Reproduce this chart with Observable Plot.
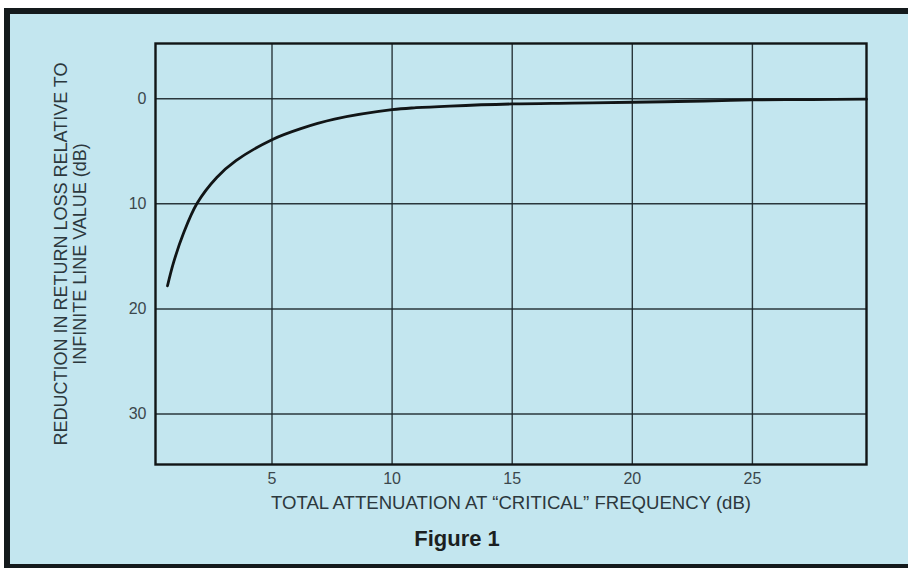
<!DOCTYPE html>
<html>
<head>
<meta charset="utf-8">
<script src="https://cdn.jsdelivr.net/npm/d3@7"></script>
<script src="https://cdn.jsdelivr.net/npm/@observablehq/plot@0.6"></script>
<style>
  html, body { margin: 0; padding: 0; background: #ffffff; width: 908px; height: 572px; overflow: hidden; }
  #panel { position: absolute; left: 4px; top: 8px; width: 920px; height: 560px;
           background: #c3e6ef; border-top: 6px solid #141a1c; border-left: 6px solid #141a1c;
           border-bottom: 4px solid #141a1c; box-sizing: border-box; }
  #chart { position: absolute; left: 0; top: 0; }
  #caption { position: absolute; left: 0; width: 914px; top: 526px; text-align: center;
             font-family: "Liberation Sans Narrow", "Liberation Sans", sans-serif; font-weight: bold;
             font-size: 22px; color: #1b1f21; }
</style>
</head>
<body>
<div id="panel"></div>
<div id="chart"></div>
<div id="caption">Figure 1</div>
<script>
// Data
const attenuation = [0.65, 0.9, 1.3, 1.87, 2.7, 3.5, 5.0, 6.2, 7.6, 10.0, 11.0, 12.4, 15.0, 17.5, 20.0, 23.0, 25.0, 27.5, 29.75];
const reduction   = [17.8, 15.6, 12.9, 10.0, 7.5, 5.9, 3.9, 2.85, 1.95, 1.05, 0.86, 0.7, 0.5, 0.42, 0.34, 0.22, 0.12, 0.08, 0.05];
const xTicks = [5, 10, 15, 20, 25];
const yTicks = [0, 10, 20, 30];
const xLabel = "TOTAL ATTENUATION AT \u201CCRITICAL\u201D FREQUENCY (dB)";
const yLabel = "REDUCTION IN RETURN LOSS RELATIVE TO\nINFINITE LINE VALUE (dB)";

const data = attenuation.map((x, i) => ({x, y: reduction[i]}));

const ink = "#1a2428";
const plot = Plot.plot({
  width: 908,
  height: 520,
  marginLeft: 155,
  marginRight: 42,
  marginTop: 43,
  marginBottom: 56,
  style: { background: "transparent", fontFamily: "Liberation Sans, Arial, sans-serif", fontSize: "16px" },
  x: { domain: [0.15, 29.75] },
  y: { domain: [-5.25, 34.8], reverse: true },
  marks: [
    Plot.gridX(xTicks, { stroke: ink, strokeOpacity: 0.9, strokeWidth: 1.4 }),
    Plot.gridY(yTicks, { stroke: ink, strokeOpacity: 0.9, strokeWidth: 1.5 }),
    Plot.axisX(xTicks, { tickSize: 0, tickPadding: 8, fill: "#3b474c", label: null }),
    Plot.axisY(yTicks, { tickSize: 0, tickPadding: 9, fill: "#3b474c", label: null }),
    Plot.line(data, { x: "x", y: "y", stroke: "#111516", strokeWidth: 2.8, curve: "catmull-rom" }),
    Plot.frame({ stroke: "#111516", strokeWidth: 2.4 }),
    Plot.text([xLabel], { frameAnchor: "bottom", lineAnchor: "middle", dy: 39, fontSize: 18, fill: "#2c383d", className: "xlab" }),
    Plot.text([yLabel], { frameAnchor: "left", textAnchor: "middle", dx: -85.5, dy: 0, rotate: -90,
                          fontSize: 18, fill: "#2c383d", lineHeight: 1.05, className: "ylab" })
  ]
});
document.getElementById("chart").appendChild(plot);

// stretch the condensed-looking x label to the reference width
d3.select(plot).selectAll(".xlab text").attr("textLength", 480).attr("lengthAdjust", "spacingAndGlyphs");
</script>
</body>
</html>
